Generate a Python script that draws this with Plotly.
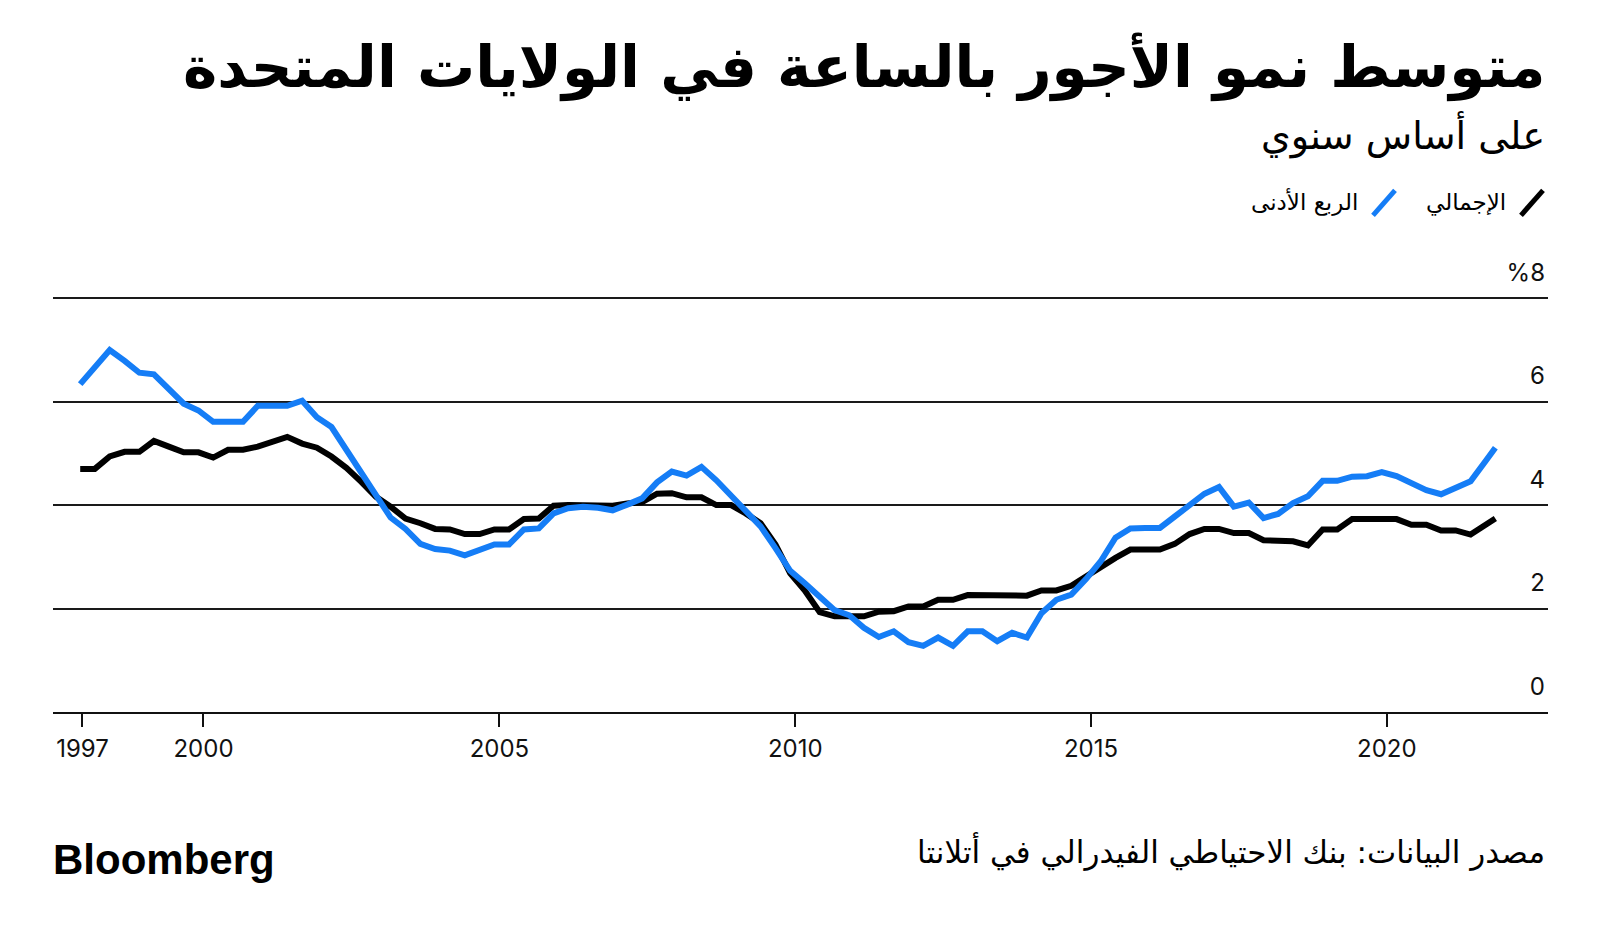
import plotly.graph_objects as go
import pandas as pd

# ---- data ----
dates = [d.strftime("%Y-%m-%d") for d in pd.date_range("1997-12-01", "2021-09-01", freq="3MS")] + ["2021-11-01"]

overall = [4.70, 4.70, 4.94, 5.03, 5.03, 5.24, 5.13, 5.02, 5.02, 4.92,
           5.07, 5.07, 5.13, 5.23, 5.32, 5.19, 5.11, 4.94, 4.72, 4.45,
           4.16, 3.97, 3.74, 3.65, 3.54, 3.53, 3.44, 3.44, 3.53, 3.53,
           3.73, 3.74, 3.99, 4.00, 3.99, 3.99, 3.99, 4.03, 4.06, 4.22,
           4.23, 4.15, 4.15, 4.00, 4.00, 3.84, 3.65, 3.24, 2.68, 2.35,
           1.93, 1.85, 1.85, 1.85, 1.94, 1.95, 2.04, 2.04, 2.17, 2.17,
           2.26, 2.26, 2.26, 2.26, 2.25, 2.35, 2.35, 2.44, 2.63, 2.82,
           2.98, 3.14, 3.14, 3.14, 3.25, 3.44, 3.54, 3.54, 3.46, 3.46,
           3.32, 3.30, 3.30, 3.22, 3.53, 3.53, 3.73, 3.73, 3.73, 3.73,
           3.62, 3.62, 3.51, 3.51, 3.43, 3.60, 3.74]

lowest_quartile = [6.34, 6.65, 7.00, 6.79, 6.56, 6.53, 6.25, 5.96, 5.83, 5.61,
                   5.61, 5.61, 5.92, 5.92, 5.92, 6.02, 5.70, 5.51, 5.08, 4.64,
                   4.20, 3.76, 3.54, 3.25, 3.15, 3.12, 3.03, 3.13, 3.24, 3.24,
                   3.53, 3.55, 3.84, 3.94, 3.97, 3.95, 3.90, 4.01, 4.13, 4.44,
                   4.65, 4.57, 4.74, 4.48, 4.18, 3.90, 3.59, 3.17, 2.73, 2.49,
                   2.22, 1.97, 1.87, 1.63, 1.45, 1.56, 1.35, 1.28, 1.44, 1.28,
                   1.56, 1.56, 1.37, 1.53, 1.44, 1.91, 2.17, 2.27, 2.57, 2.91,
                   3.37, 3.55, 3.56, 3.56, 3.78, 4.02, 4.22, 4.35, 3.97, 4.05,
                   3.75, 3.83, 4.04, 4.17, 4.47, 4.47, 4.55, 4.56, 4.64, 4.56,
                   4.43, 4.29, 4.21, 4.33, 4.46, 4.85, 5.11]

x_tick_vals = ["1997-12-15", "2000-01-01", "2005-01-01", "2010-01-01", "2015-01-01", "2020-01-01"]
x_tick_text = ["1997", "2000", "2005", "2010", "2015", "2020"]
y_tick_vals = [0, 2, 4, 6, 8]
y_tick_text = ["0", "2", "4", "6", "%8"]

title_text = "متوسط نمو الأجور بالساعة في الولايات المتحدة"
subtitle_text = "على أساس سنوي"
legend_overall = "الإجمالي"
legend_lowest = "الربع الأدنى"
source_text = "مصدر البيانات: بنك الاحتياطي الفيدرالي في أتلانتا"

BLUE = "#157DF6"
BLACK = "#000000"
ARABIC_FONT = "DejaVu Sans"
NUM_FONT = "Inter, Liberation Sans, Arial, sans-serif"
LATIN_FONT = "Liberation Sans, Arial, sans-serif"

# ---- layout geometry (page body has an 8px default margin) ----
OFF = 8
W, H = 1600 - OFF, 939 - OFF
L = 53 - OFF
RIGHT_EDGE = 1548 - OFF
R = W - RIGHT_EDGE
PLOT_BOTTOM = 712 - OFF
Y_MAX = 9.3
PX_PER_UNIT = 51.75
PLOT_TOP = PLOT_BOTTOM - Y_MAX * PX_PER_UNIT


def px_x(x):
    return (x - OFF - L) / (W - L - R)


def px_y(y):
    return (PLOT_BOTTOM - (y - OFF)) / (PLOT_BOTTOM - PLOT_TOP)


fig = go.Figure()
fig.add_trace(go.Scatter(x=dates, y=overall, mode="lines", name=legend_overall,
                         line=dict(color=BLACK, width=6), showlegend=False))
fig.add_trace(go.Scatter(x=dates, y=lowest_quartile, mode="lines", name=legend_lowest,
                         line=dict(color=BLUE, width=6), showlegend=False))

fig.update_layout(
    width=W, height=H,
    margin=dict(l=L, r=R, t=round(PLOT_TOP), b=H - PLOT_BOTTOM, pad=0),
    paper_bgcolor="white", plot_bgcolor="white",
    font=dict(family=LATIN_FONT, color="#111111"),
    xaxis=dict(
        type="date",
        range=["1997-06-16", "2022-09-22"],
        tickvals=x_tick_vals, ticktext=x_tick_text,
        ticks="outside", ticklen=13, tickwidth=1.5, tickcolor="#111111",
        showline=True, linecolor="#111111", linewidth=1.5,
        showgrid=False, zeroline=False,
        tickfont=dict(size=24, family=NUM_FONT, color="#111111"),
        ticklabelstandoff=1,
    ),
    yaxis=dict(
        range=[0, Y_MAX],
        side="right",
        tickvals=y_tick_vals, ticktext=y_tick_text,
        ticks="", showline=False, zeroline=False,
        showgrid=True, gridcolor="#1a1a1a", gridwidth=1.5,
        ticklabelposition="inside top",
        ticklabelshift=-9,
        tickfont=dict(size=24, family=NUM_FONT, color="#111111"),
    ),
    showlegend=False,
)

annotations = [
    dict(text="<b>" + title_text + "</b>", x=px_x(1547), y=px_y(67), xref="paper", yref="paper",
         xanchor="right", yanchor="middle", showarrow=False,
         font=dict(size=58, family=ARABIC_FONT, color="#000000")),
    dict(text=subtitle_text, x=px_x(1547), y=px_y(135), xref="paper", yref="paper",
         xanchor="right", yanchor="middle", showarrow=False,
         font=dict(size=38, family=ARABIC_FONT, color="#000000")),
    dict(text=legend_overall, x=px_x(1508), y=px_y(202), xref="paper", yref="paper",
         xanchor="right", yanchor="middle", showarrow=False,
         font=dict(size=23, family=ARABIC_FONT, color="#000000")),
    dict(text=legend_lowest, x=px_x(1360), y=px_y(202), xref="paper", yref="paper",
         xanchor="right", yanchor="middle", showarrow=False,
         font=dict(size=23, family=ARABIC_FONT, color="#000000")),
    dict(text=source_text, x=px_x(1547), y=px_y(852), xref="paper", yref="paper",
         xanchor="right", yanchor="middle", showarrow=False,
         font=dict(size=31, family=ARABIC_FONT, color="#000000")),
    dict(text="<b>Bloomberg</b>", x=px_x(51), y=px_y(860), xref="paper", yref="paper",
         xanchor="left", yanchor="middle", showarrow=False,
         font=dict(size=42, family=LATIN_FONT, color="#000000")),
]
fig.update_layout(annotations=annotations)

shapes = [
    dict(type="line", xref="paper", yref="paper",
         x0=px_x(1521), y0=px_y(215), x1=px_x(1543), y1=px_y(190),
         line=dict(color=BLACK, width=5)),
    dict(type="line", xref="paper", yref="paper",
         x0=px_x(1373), y0=px_y(215), x1=px_x(1395), y1=px_y(190),
         line=dict(color=BLUE, width=5)),
]
fig.update_layout(shapes=shapes)

fig.write_html("out.html")
